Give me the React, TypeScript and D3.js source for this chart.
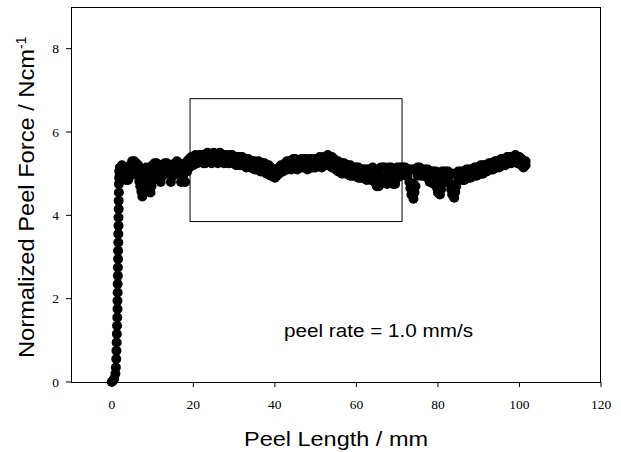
import React from "react";
import * as d3 from "d3";

// ---- data ----
const xTicks = [0, 20, 40, 60, 80, 100, 120];
const yTicks = [0, 2, 4, 6, 8];

// initial rise [peel length mm, force N/cm]
const riseX = [0, 0.3, 0.6, 0.9, 1.0, 1.1, 1.15, 1.2, 1.25, 1.3, 1.35, 1.4, 1.4, 1.45, 1.45, 1.5, 1.5, 1.55, 1.55, 1.6, 1.6, 1.65, 1.65, 1.7, 1.7, 1.75, 1.75, 1.8, 1.85, 1.95];
const riseY = [0.0, 0.03, 0.08, 0.2, 0.35, 0.55, 0.75, 0.95, 1.15, 1.35, 1.55, 1.75, 1.95, 2.15, 2.35, 2.55, 2.75, 2.95, 3.15, 3.35, 3.55, 3.75, 3.95, 4.15, 4.35, 4.55, 4.75, 4.9, 5.05, 5.1];

// plateau band, sampled every 0.5 mm from 2.0 mm: upper and lower edge of the scatter
const plateauStart = 2.0;
const plateauStep = 0.5;
const bandTop = [
  5.15, 5.2, 5.15, 5.1, 5.1, 5.2, 5.3, 5.3, 5.25, 5.2,
  5.1, 5.05, 5.1, 5.15, 5.1, 5.15, 5.2, 5.25, 5.25, 5.2,
  5.15, 5.2, 5.25, 5.25, 5.2, 5.15, 5.2, 5.25, 5.3, 5.25,
  5.2, 5.2, 5.25, 5.3, 5.35, 5.4, 5.4, 5.45, 5.4, 5.45,
  5.45, 5.45, 5.4, 5.5, 5.45, 5.45, 5.5, 5.45, 5.45, 5.5,
  5.45, 5.45, 5.45, 5.4, 5.45, 5.45, 5.4, 5.4, 5.4, 5.4,
  5.4, 5.35, 5.35, 5.35, 5.3, 5.3, 5.3, 5.25, 5.3, 5.25,
  5.25, 5.25, 5.2, 5.2, 5.15, 5.1, 5.1, 5.1, 5.15, 5.2,
  5.2, 5.25, 5.3, 5.3, 5.3, 5.35, 5.35, 5.3, 5.3, 5.35,
  5.35, 5.35, 5.3, 5.35, 5.35, 5.3, 5.35, 5.35, 5.4, 5.35,
  5.4, 5.4, 5.45, 5.4, 5.4, 5.35, 5.3, 5.3, 5.25, 5.25,
  5.25, 5.2, 5.2, 5.2, 5.15, 5.15, 5.15, 5.15, 5.1, 5.1,
  5.1, 5.1, 5.1, 5.1, 5.15, 5.1, 5.05, 5.1, 5.15, 5.15,
  5.15, 5.1, 5.15, 5.15, 5.1, 5.1, 5.15, 5.15, 5.15, 5.15,
  5.15, 5.1, 5.1, 5.1, 5.1, 5.1, 5.15, 5.15, 5.1, 5.1,
  5.1, 5.1, 5.05, 5.05, 5.05, 5.05, 5.0, 5.0, 5.05, 5.05,
  5.05, 5.05, 5.0, 5.0, 5.0, 5.0, 5.05, 5.05, 5.05, 5.05,
  5.1, 5.1, 5.1, 5.1, 5.15, 5.15, 5.15, 5.2, 5.2, 5.2,
  5.2, 5.25, 5.25, 5.25, 5.3, 5.3, 5.3, 5.35, 5.35, 5.35,
  5.4, 5.4, 5.4, 5.4, 5.45, 5.4, 5.4, 5.35, 5.3, 5.3,
];
const bandBottom = [
  5.0, 5.05, 4.95, 4.85, 4.85, 4.95, 5.1, 5.15, 5.05, 4.95,
  4.7, 4.45, 4.6, 4.9, 4.75, 4.55, 4.85, 5.0, 5.05, 4.95,
  4.8, 4.95, 5.05, 5.1, 5.0, 4.8, 4.95, 5.1, 5.1, 5.0,
  4.8, 4.95, 4.8, 5.05, 5.15, 5.2, 5.2, 5.25, 5.25, 5.3,
  5.3, 5.25, 5.25, 5.3, 5.3, 5.25, 5.3, 5.3, 5.25, 5.3,
  5.3, 5.25, 5.3, 5.25, 5.25, 5.3, 5.25, 5.2, 5.25, 5.2,
  5.2, 5.2, 5.15, 5.2, 5.15, 5.15, 5.1, 5.1, 5.1, 5.05,
  5.05, 5.05, 5.0, 5.0, 4.95, 4.95, 4.9, 4.95, 5.0, 5.05,
  5.05, 5.1, 5.1, 5.15, 5.1, 5.15, 5.15, 5.1, 5.15, 5.15,
  5.15, 5.15, 5.1, 5.15, 5.15, 5.15, 5.15, 5.2, 5.2, 5.15,
  5.2, 5.2, 5.2, 5.2, 5.15, 5.15, 5.1, 5.05, 5.05, 5.0,
  5.05, 5.0, 5.0, 4.95, 4.95, 4.95, 4.95, 4.9, 4.9, 4.9,
  4.9, 4.85, 4.9, 4.85, 4.9, 4.8, 4.7, 4.7, 4.85, 4.9,
  4.85, 4.75, 4.9, 4.9, 4.75, 4.75, 4.9, 4.95, 4.95, 5.0,
  5.0, 4.95, 4.8, 4.5, 4.4, 4.7, 4.95, 5.0, 4.95, 4.95,
  4.95, 4.9, 4.8, 4.85, 4.75, 4.8, 4.55, 4.5, 4.75, 4.85,
  4.85, 4.9, 4.75, 4.5, 4.42, 4.7, 4.85, 4.9, 4.85, 4.85,
  4.9, 4.9, 4.9, 4.95, 4.95, 4.95, 5.0, 5.0, 5.0, 5.05,
  5.05, 5.1, 5.1, 5.1, 5.15, 5.15, 5.15, 5.2, 5.2, 5.2,
  5.25, 5.25, 5.25, 5.3, 5.3, 5.25, 5.25, 5.2, 5.15, 5.2,
];

// extra points inside the downward spikes
const dipX = [6.75, 7.25, 7.5, 7.75, 8.25, 9.5, 9.75, 73.25, 73.75, 74.0, 74.25, 79.75, 80.25, 80.5, 80.75, 83.25, 83.75, 84.0, 84.25, 65.0, 69.5, 12.0, 14.5, 17.0];
const dipY = [4.82, 4.57, 4.75, 4.65, 4.75, 4.8, 4.7, 4.65, 4.6, 4.75, 4.55, 4.67, 4.7, 4.75, 4.62, 4.62, 4.65, 4.72, 4.56, 4.92, 4.93, 5.0, 5.0, 5.0];

// annotation box (data units)
const boxX = [19.2, 71.2];
const boxY = [3.85, 6.8];

const W = 621;
const H = 452;
const L = 71, R = 601, T = 7, B = 382;

export default function App() {
  const x = d3.scaleLinear().domain([-10, 120]).range([L, R]);
  const y = d3.scaleLinear().domain([0, 9]).range([B, T]);

  const pts: [number, number][] = [];
  riseX.forEach((v, i) => pts.push([v, riseY[i]]));
  bandTop.forEach((v, i) => pts.push([plateauStart + i * plateauStep, v]));
  bandBottom.forEach((v, i) => pts.push([plateauStart + i * plateauStep, v]));
  dipX.forEach((v, i) => pts.push([v, dipY[i]]));

  const sans = "Liberation Sans, Arial, sans-serif";
  const serif = "Liberation Serif, Times New Roman, serif";

  return (
    <svg width={W} height={H} style={{ position: "absolute", left: 0, top: 0, background: "#fff" }}>
      {/* frame */}
      <rect x={L + 0.5} y={T + 0.5} width={R - L - 1} height={B - T} fill="none" stroke="#000" strokeWidth={1} />
      {/* box */}
      <rect
        x={x(boxX[0])}
        y={y(boxY[1])}
        width={x(boxX[1]) - x(boxX[0])}
        height={y(boxY[0]) - y(boxY[1])}
        fill="none"
        stroke="#000"
        strokeWidth={1}
      />
      {/* points */}
      <g fill="#000">
        {pts.map((p, i) => (
          <circle key={i} cx={x(p[0])} cy={y(p[1])} r={5} />
        ))}
      </g>
      {/* x ticks */}
      <g>
        {xTicks.map((t) => (
          <g key={t}>
            <line x1={x(t)} x2={x(t)} y1={B} y2={B + 5} stroke="#000" />
            <text x={x(t)} y={409} textAnchor="middle" fontFamily={serif} fontSize={13.5} fill="#000">
              {t}
            </text>
          </g>
        ))}
      </g>
      {/* y ticks */}
      <g>
        {yTicks.map((t) => (
          <g key={t}>
            <line x1={L - 5} x2={L} y1={y(t)} y2={y(t)} stroke="#000" />
            <text x={59} y={y(t) + 4.5} textAnchor="end" fontFamily={serif} fontSize={13.5} fill="#000">
              {t}
            </text>
          </g>
        ))}
      </g>
      {/* axis titles */}
      <text x={(L + R) / 2} y={446} textAnchor="middle" fontFamily={sans} fontSize={21} fill="#000" textLength={184} lengthAdjust="spacingAndGlyphs">
        Peel Length / mm
      </text>
      <text transform="translate(33.5, 358) rotate(-90)" fontFamily={sans} fontSize={21.5} fill="#000">
        <tspan textLength={309} lengthAdjust="spacingAndGlyphs">Normalized Peel Force / Ncm</tspan>
        <tspan dy={-8} fontSize={14}>-1</tspan>
      </text>
      <text x={284} y={337} fontFamily={sans} fontSize={17.5} fill="#000" textLength={189} lengthAdjust="spacingAndGlyphs">
        peel rate = 1.0 mm/s
      </text>
    </svg>
  );
}
